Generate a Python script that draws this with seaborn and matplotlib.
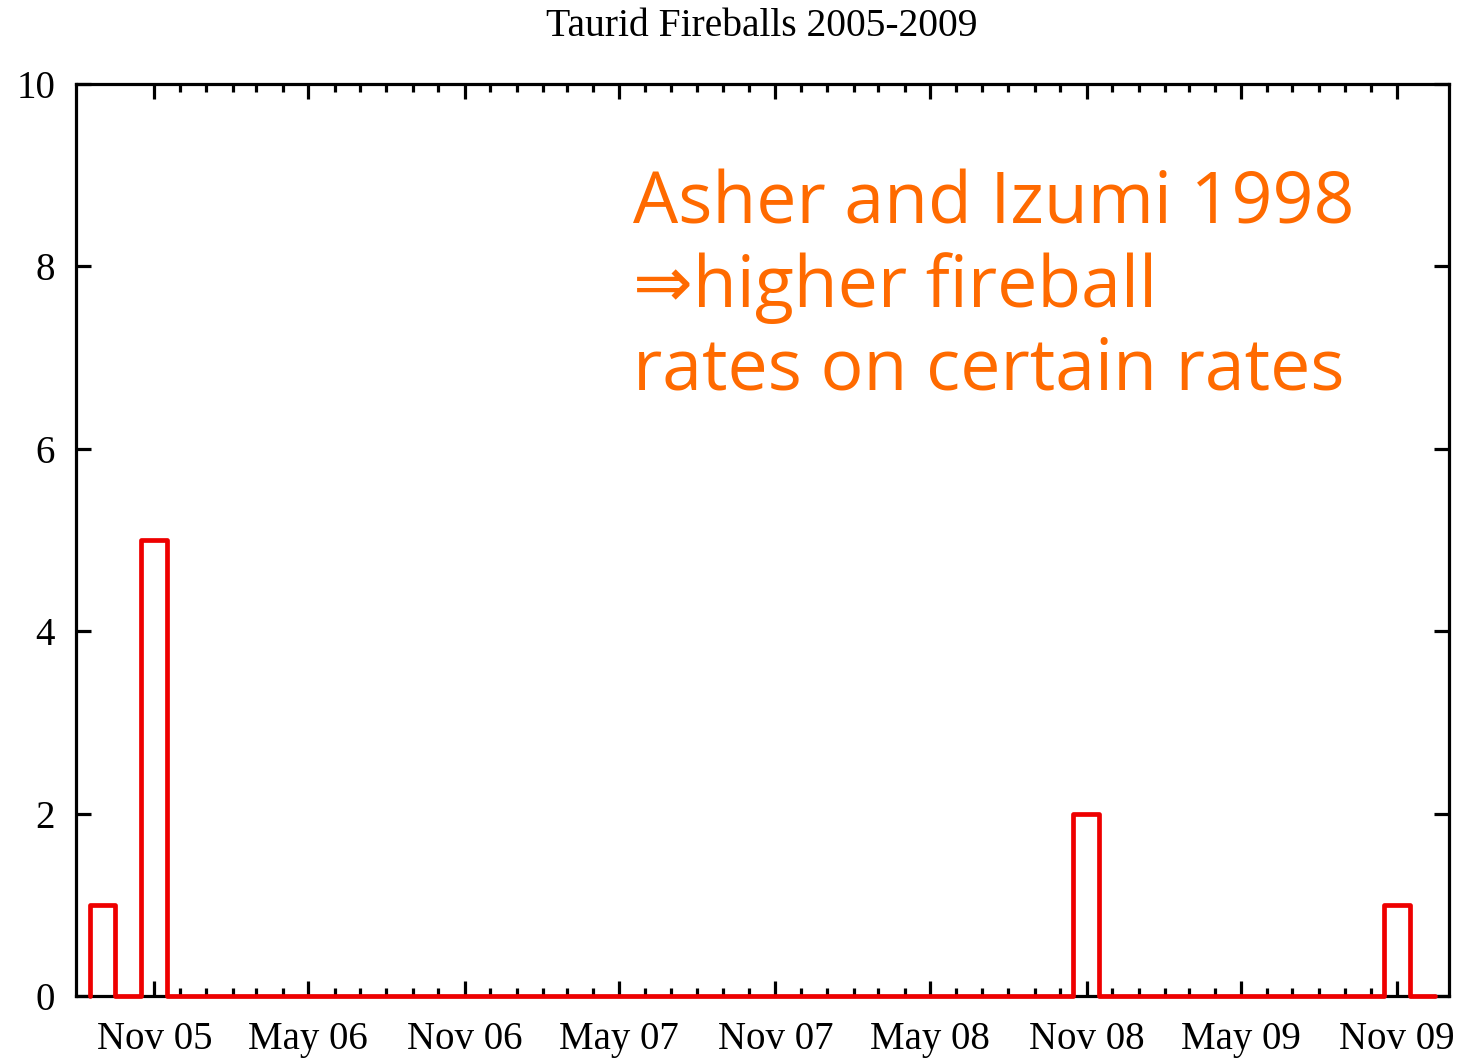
import numpy as np
import pandas as pd
import matplotlib
matplotlib.use("Agg")
import matplotlib.pyplot as plt
import matplotlib.dates as mdates
import matplotlib.ticker as mticker
import seaborn as sns

# ---- data: monthly counts of Taurid fireballs, Sep 2005 .. Dec 2009 ----
counts_2005 = [1, 0, 5, 0]                                  # Sep..Dec
counts_2006 = [0, 0, 0, 0, 0, 0, 0, 0, 0, 0, 0, 0]
counts_2007 = [0, 0, 0, 0, 0, 0, 0, 0, 0, 0, 0, 0]
counts_2008 = [0, 0, 0, 0, 0, 0, 0, 0, 0, 0, 2, 0]
counts_2009 = [0, 0, 0, 0, 0, 0, 0, 0, 0, 0, 1, 0]
counts = counts_2005 + counts_2006 + counts_2007 + counts_2008 + counts_2009
months = pd.date_range("2005-09-01", "2009-12-01", freq="MS")

title = "Taurid Fireballs 2005-2009"
note_lines = ["Asher and Izumi 1998", "\u21d2higher fireball", "rates on certain rates"]
y_ticks = [0, 2, 4, 6, 8, 10]

# ---- step outline (histeps style: bins centred on each month) ----
xs = mdates.date2num(months.to_pydatetime())
edges = np.concatenate([[xs[0] - (xs[1] - xs[0]) / 2],
                        (xs[:-1] + xs[1:]) / 2,
                        [xs[-1] + (xs[-1] - xs[-2]) / 2]])
step_x = np.concatenate([[edges[0]], edges])
step_y = np.concatenate([[0], counts, [counts[-1]]])

sns.set_theme(style="white")
plt.rcParams["font.family"] = ["Liberation Serif", "DejaVu Serif"]
plt.rcParams["text.color"] = "black"
plt.rcParams["xtick.color"] = "black"
plt.rcParams["ytick.color"] = "black"
plt.rcParams["xtick.labelcolor"] = "black"
plt.rcParams["ytick.labelcolor"] = "black"

fig = plt.figure(figsize=(14.6, 10.58), dpi=100)
ax = fig.add_axes([76 / 1460, 1 - 996 / 1058, (1449 - 76) / 1460, (996 - 84) / 1058])

sns.lineplot(x=step_x, y=step_y, drawstyle="steps-post", estimator=None, sort=False,
             color="#ee0000", linewidth=3.4, ax=ax, zorder=3, clip_on=False)

ax.set_xlim(mdates.date2num(pd.Timestamp("2005-08-01")), mdates.date2num(pd.Timestamp("2010-01-01")))
ax.set_ylim(0, 10)
ax.set_yticks(y_ticks)
ax.xaxis.set_major_locator(mdates.MonthLocator(bymonth=[5, 11]))
ax.xaxis.set_major_formatter(mdates.DateFormatter("%b %y"))
minor = mdates.date2num(pd.date_range("2005-11-01", "2009-11-01", freq="MS").to_pydatetime())
ax.xaxis.set_minor_locator(mticker.FixedLocator(minor))

for s in ax.spines.values():
    s.set_visible(True)
    s.set_color("black")
    s.set_linewidth(2.3)
    s.set_zorder(2)

ax.tick_params(which="both", direction="in", top=True, right=True, bottom=True, left=True,
               color="black", width=2.3, labelcolor="black")
ax.tick_params(which="major", length=11, labelsize=28, pad=16)
ax.tick_params(which="minor", length=6)
ax.tick_params(axis="x", pad=18)
ax.tick_params(axis="y", pad=15)
ax.set_xlabel("")
ax.set_ylabel("")

fig.text(762 / 1460, 1 - 26 / 1058, title, ha="center", va="center", fontsize=28.5,
         color="black", family=["Liberation Serif", "DejaVu Serif"])

for i, line in enumerate(note_lines):
    ax.text(633 / 1460, 1 - (224 + i * 83) / 1058, line, transform=fig.transFigure,
            ha="left", va="baseline", fontsize=51.5, color="#ff6a00",
            family=["Open Sans", "DejaVu Sans"])

fig.savefig("out.png", dpi=100)
